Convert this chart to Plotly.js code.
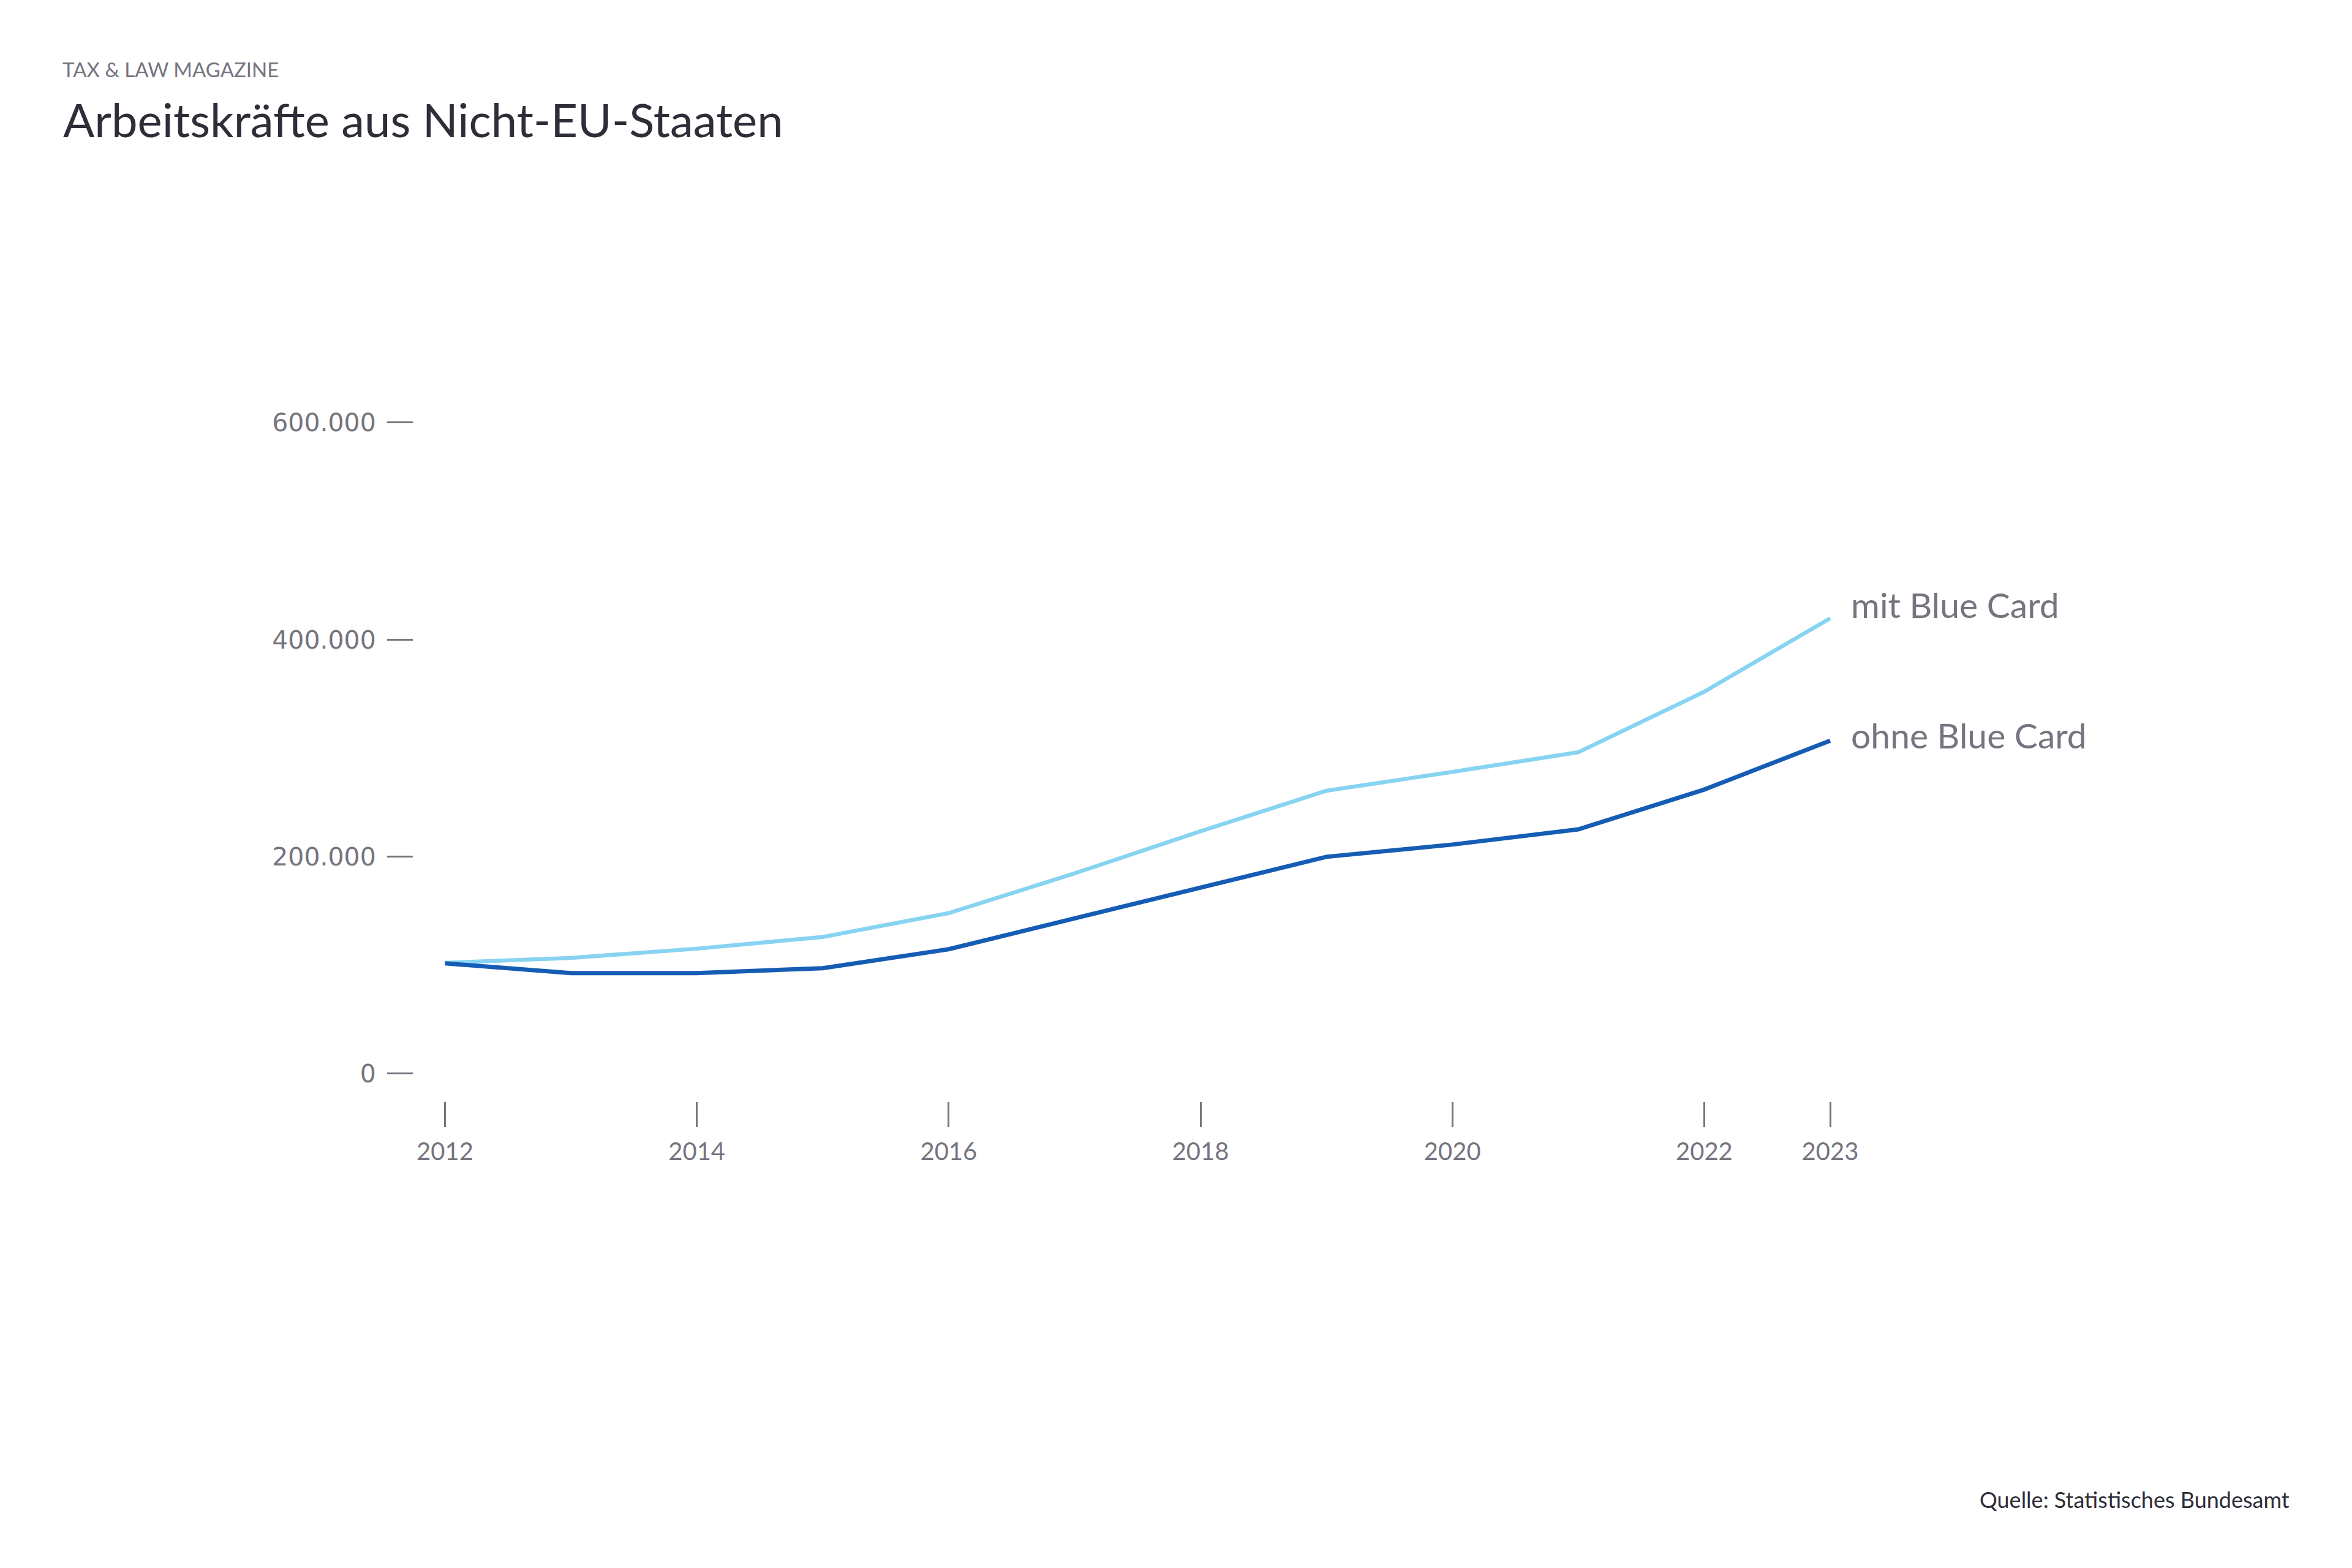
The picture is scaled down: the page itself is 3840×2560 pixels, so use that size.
<!DOCTYPE html>
<html>
<head>
<meta charset="utf-8">
<script src="https://cdn.plot.ly/plotly-3.0.1.min.js"></script>
<style>
  html, body { margin: 0; padding: 0; background: #ffffff; }
  #chart { width: 3840px; height: 2560px; }
</style>
</head>
<body>
<div id="chart"></div>
<script>
// ---- Data ----
const years = [2012, 2013, 2014, 2015, 2016, 2017, 2018, 2019, 2020, 2021, 2022, 2023];
const mitBlueCard  = [102000, 106500, 115000, 125800, 147800, 184400, 223300, 260600, 278000, 296100, 351900, 419600];
const ohneBlueCard = [101500,  92500,  92500,  97000, 114500, 142700, 171500, 199700, 211000, 225000, 261700, 306800];
const seriesNames = ['mit Blue Card', 'ohne Blue Card'];
const xTickVals = [2012, 2014, 2016, 2018, 2020, 2022, 2023];
const xTickText = ['2012', '2014', '2016', '2018', '2020', '2022', '2023'];
const yTickVals = [0, 200000, 400000, 600000];
const yTickText = ['0', '200.000', '400.000', '600.000'];
const titleText = 'Arbeitskräfte aus Nicht-EU-Staaten';
const kickerText = 'TAX &amp; LAW MAGAZINE';
const sourceText = 'Quelle: Statistisches Bundesamt';

// ---- Layout geometry (pixels) ----
const W = 3840, H = 2560;
const L = 675, R = 3000, T = 660, B = 1798;
const pw = R - L, ph = B - T;
const px = x => (x - L) / pw;      // pixel x -> paper
const py = y => (B - y) / ph;      // pixel y -> paper

const grey = '#75747f';
const dark = '#2e2e38';
const lightBlue = '#87d3f2';
const darkBlue = '#155cb4';

const traces = [
  { x: years, y: mitBlueCard, name: seriesNames[0], type: 'scatter', mode: 'lines',
    line: { color: lightBlue, width: 6.5 }, hoverinfo: 'skip' },
  { x: years, y: ohneBlueCard, name: seriesNames[1], type: 'scatter', mode: 'lines',
    line: { color: darkBlue, width: 7 }, hoverinfo: 'skip' }
];

const layout = {
  width: W, height: H,
  paper_bgcolor: '#ffffff', plot_bgcolor: '#ffffff',
  showlegend: false,
  margin: { l: L, r: W - R, t: T, b: H - B, pad: 0 },
  font: { family: 'Lato, Roboto, sans-serif', color: grey },
  title: {
    text: titleText,
    xref: 'container', yref: 'container',
    x: 103 / W, xanchor: 'left',
    y: 1 - 197 / H, yanchor: 'middle',
    font: { family: 'Lato, Roboto, sans-serif', size: 76, color: dark }
  },
  xaxis: {
    range: [2012 - 51.5 / 205.6, 2023 + 12 / 205.6],
    showgrid: false, zeroline: false, showline: false,
    tickmode: 'array', tickvals: xTickVals, ticktext: xTickText,
    ticks: 'outside', ticklen: 41, tickwidth: 3, tickcolor: grey,
    ticklabelstandoff: 6,
    tickfont: { family: 'Lato, Roboto, sans-serif', size: 40, color: grey },
    fixedrange: true
  },
  yaxis: {
    range: [-25684, 616935],
    showgrid: false, zeroline: false, showline: false,
    tickmode: 'array', tickvals: yTickVals, ticktext: yTickText,
    ticks: 'outside', ticklen: 42, tickwidth: 3, tickcolor: grey,
    ticklabelstandoff: 10,
    tickfont: { family: '"DejaVu Sans", sans-serif', size: 41, color: grey },
    fixedrange: true
  },
  annotations: [
    { text: kickerText, xref: 'paper', yref: 'paper', x: px(100), y: py(113),
      xanchor: 'left', yanchor: 'middle', showarrow: false,
      font: { family: 'Lato, Roboto, sans-serif', size: 33, color: grey } },
    { text: seriesNames[0], xref: 'x', yref: 'paper', x: 2023, xshift: 32, y: py(987),
      xanchor: 'left', yanchor: 'middle', showarrow: false,
      font: { family: 'Lato, Roboto, sans-serif', size: 57, color: grey } },
    { text: seriesNames[1], xref: 'x', yref: 'paper', x: 2023, xshift: 32, y: py(1200),
      xanchor: 'left', yanchor: 'middle', showarrow: false,
      font: { family: 'Lato, Roboto, sans-serif', size: 57, color: grey } },
    { text: sourceText, xref: 'paper', yref: 'paper', x: px(3740), y: py(2448),
      xanchor: 'right', yanchor: 'middle', showarrow: false,
      font: { family: 'Lato, Roboto, sans-serif', size: 36, color: dark } }
  ]
};

Plotly.newPlot('chart', traces, layout, { staticPlot: true, displayModeBar: false });
</script>
</body>
</html>
